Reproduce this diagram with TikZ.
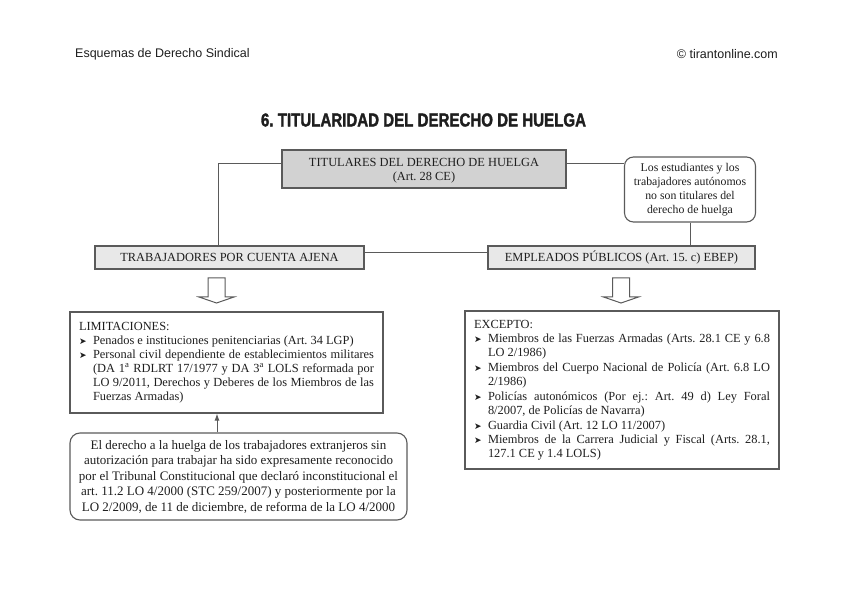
\documentclass[tikz,border=0pt]{standalone}
\usepackage{graphicx}
\usepackage{fontspec}
\setmainfont{Liberation Serif}
\newfontfamily\headfont{Liberation Sans}
\newfontfamily\titlefont[BoldFeatures={FakeBold=2}]{Liberation Sans}
\newfontfamily\symfont{DejaVu Sans}
\usetikzlibrary{arrows.meta}
\definecolor{ink}{HTML}{1E1E1E}
\definecolor{edge}{HTML}{5A5A5A}
\definecolor{darkfill}{HTML}{D2D2D2}
\definecolor{lightfill}{HTML}{E8E8E8}
\newcommand\itm[1]{\par\noindent
  \makebox[14pt][l]{\symfont\fontsize{9}{9}\selectfont ➤}%
  \parbox[t]{\dimexpr\hsize-14pt\relax}{\strut#1\strut}}
\frenchspacing

\begin{document}
\begin{tikzpicture}[x=1pt,y=-1pt,text=ink,
  box/.style={draw=edge,line width=1.1pt,inner sep=0pt},
  link/.style={draw=edge,line width=1pt},
  hollow/.style={draw=edge,line width=1pt,fill=white,line join=miter},
  body/.style={font=\fontsize{12.4}{14}\selectfont},
  small/.style={font=\fontsize{11.8}{14}\selectfont},
  head/.style={inner sep=0pt,font=\headfont\fontsize{12.5}{14}\selectfont}]
  \useasboundingbox (0,0) rectangle (848,601);

  \node[head,anchor=west] (hdrl) at (75,54) {Esquemas de Derecho Sindical};
  \node[head,anchor=east] (hdrr) at (778,54) {© tirantonline.com};
  \node (ttl) at (423.5,120)
    {\resizebox{325pt}{13pt}{\titlefont\bfseries 6. TITULARIDAD DEL DERECHO DE HUELGA}};

  \node[box,body,fill=darkfill,minimum width=284pt,minimum height=38pt,
    align=center] (tit) at (424,169)
    {\rule{0pt}{12pt}TITULARES DEL DERECHO DE HUELGA\\(Art. 28 CE)};
  \node[box,small,rounded corners=9pt,minimum width=131pt,minimum height=65pt,
    align=center] (est) at (690,189.5)
    {Los estudiantes y los\\trabajadores autónomos\\no son titulares del\\derecho de huelga};

  \node[box,body,fill=lightfill,minimum width=269pt,minimum height=23pt]
    (tca) at (229.5,257.5) {TRABAJADORES POR CUENTA AJENA};
  \node[box,body,fill=lightfill,minimum width=267pt,minimum height=23pt]
    (emp) at (621.5,257.5) {EMPLEADOS PÚBLICOS (Art. 15. c) EBEP)};

  \coordinate (lk) at (218,0);
  \draw[link] ([yshift=5pt]tit.west) -| (tca.north -| lk);
  \draw[link] ([yshift=5pt]tit.east) -- ([yshift=5pt]tit.east -| est.west);
  \draw[link] (est.south) -- (est.south |- emp.north);
  \draw[link] ([yshift=5pt]tca.east) -- ([yshift=5pt]tca.east -| emp.west);

  \foreach \cx in {216.5,621}
    \draw[hollow] (\cx-8.5,278) -- (\cx-8.5,297) -- (\cx-17.5,297)
      -- (\cx,303) -- (\cx+17.5,297) -- (\cx+8.5,297) -- (\cx+8.5,278) -- cycle;

  \node[box,body,minimum width=313pt,minimum height=101pt,inner xsep=9pt,
    text width=295pt,align=justify] (lim) at (226.5,362.5)
    {\noindent\strut LIMITACIONES:
     \itm{Penados e instituciones penitenciarias (Art. 34 LGP)}
     \itm{Personal civil dependiente de establecimientos militares\linebreak
       (DA 1\textsuperscript{a} RDLRT 17/1977 y DA 3\textsuperscript{a} LOLS reformada por\linebreak
       LO 9/2011, Derechos y Deberes de los Miembros de las\linebreak
       Fuerzas Armadas)}};

  \node[box,body,minimum width=314pt,minimum height=158pt,inner xsep=9pt,
    text width=296pt,align=justify] (exc) at (622,390)
    {\noindent\strut EXCEPTO:
     \itm{Miembros de las Fuerzas Armadas (Arts. 28.1 CE y 6.8\linebreak LO 2/1986)}
     \itm{Miembros del Cuerpo Nacional de Policía (Art. 6.8 LO\linebreak 2/1986)}
     \itm{Policías autonómicos (Por ej.: Art. 49 d) Ley Foral\linebreak
       8/2007, de Policías de Navarra)}
     \itm{Guardia Civil (Art. 12 LO 11/2007)}
     \itm{Miembros de la Carrera Judicial y Fiscal (Arts. 28.1,\linebreak
       127.1 CE y 1.4 LOLS)}};

  \node[box,font=\fontsize{13}{15.5}\selectfont,rounded corners=10pt,
    minimum width=337pt,minimum height=87pt,align=center] (ext) at (238.5,476.5)
    {El derecho a la huelga de los trabajadores extranjeros sin\\
     autorización para trabajar ha sido expresamente reconocido\\
     por el Tribunal Constitucional que declaró inconstitucional el\\
     art. 11.2 LO 4/2000 (STC 259/2007) y posteriormente por la\\
     LO 2/2009, de 11 de diciembre, de reforma de la LO 4/2000};

  \coordinate (ax) at (217,0);
  \draw[link,-{Latex[length=7pt,width=5pt]}] (ext.north -| ax) -- (lim.south -| ax);
\end{tikzpicture}
\end{document}
